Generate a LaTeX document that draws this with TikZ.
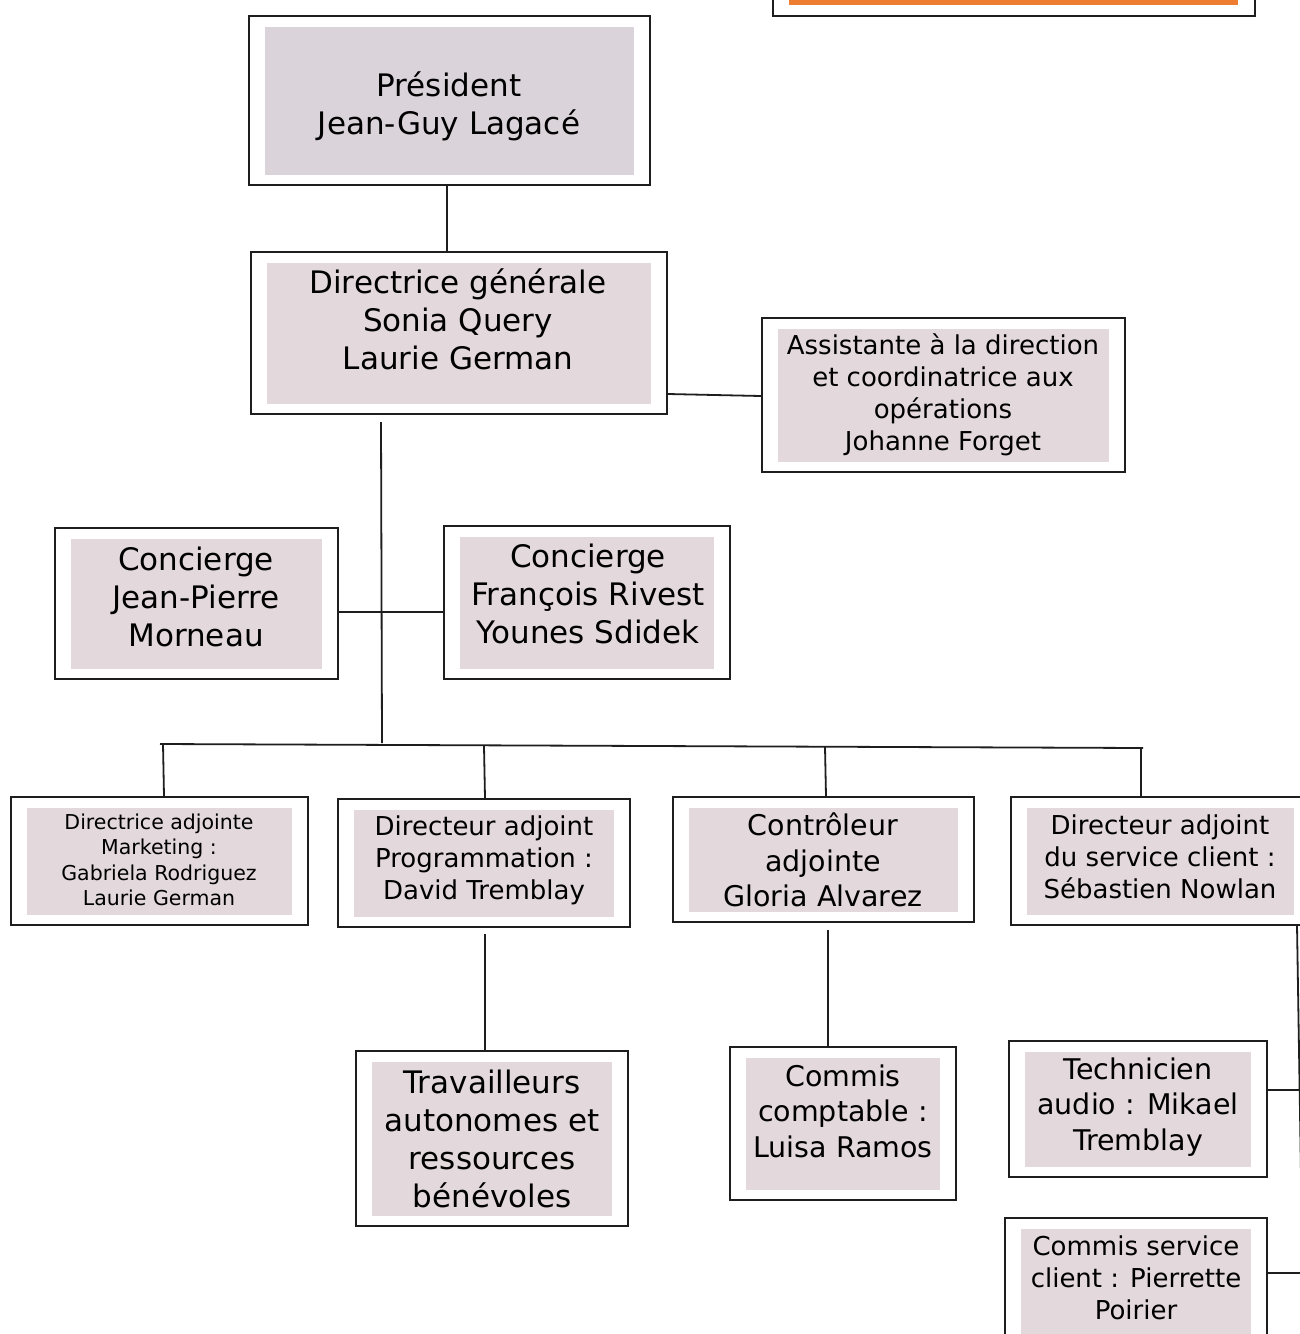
\documentclass[tikz,border=0pt]{standalone}
\usepackage{fontspec}
\setmainfont{DejaVu Sans}
\definecolor{presfill}{RGB}{219,211,218}
\definecolor{boxfill}{RGB}{227,216,220}
\definecolor{orangebar}{RGB}{237,125,49}
\definecolor{edge}{RGB}{30,30,30}
\tikzset{
  orgbox/.style={draw=edge, line width=2pt, fill=white, rectangle, inner sep=0pt,
    path picture={\fill[#1] ([shift={(15.5pt,-11pt)}]path picture bounding box.north west)
      rectangle ([shift={(-16pt,10.5pt)}]path picture bounding box.south east);}},
  orgbox/.default=boxfill,
  big/.style={font=\fontsize{31}{38}\selectfont, align=center, inner sep=0pt},
  mid/.style={font=\fontsize{26}{32}\selectfont, align=center, inner sep=0pt},
  midb/.style={font=\fontsize{28.5}{35.5}\selectfont, align=center, inner sep=0pt},
  small/.style={font=\fontsize{20.5}{25.5}\selectfont, align=center, inner sep=0pt},
  link/.style={draw=edge, line width=1.8pt},
}
\begin{document}
\begin{tikzpicture}[x=1pt,y=-1pt]
\useasboundingbox (0,0) rectangle (1300,1334);
\clip (0,0) rectangle (1300,1334);
\fill[white] (0,0) rectangle (1300,1334);

% orange header box (cut off at top)
\node[draw=edge, line width=2pt, rectangle, minimum width=482pt, minimum height=80pt, inner sep=0pt] (hdr) at (1014,-24) {};
\fill[orangebar] (789,-70) rectangle (1238,5);

% boxes
\node[orgbox=presfill, minimum width=401pt, minimum height=169pt] (pres) at (449.5,100.5) {};
\node[big] (pres-t) at (449,106.5) {Président\\Jean-Guy Lagacé};

\node[orgbox, minimum width=416pt, minimum height=162pt] (dg) at (459,333) {};
\node[big] (dg-t) at (458,319) {Directrice générale\\Sonia Query\\Laurie German};

\node[orgbox, minimum width=363pt, minimum height=154pt] (asst) at (943.5,395) {};
\node[mid] (asst-t) at (943,395) {Assistante à la direction\\et coordinatrice aux\\opérations\\Johanne Forget};

\node[orgbox, minimum width=283pt, minimum height=151pt] (cjp) at (196.5,603.5) {};
\node[big] (cjp-t) at (196,597) {Concierge\\Jean-Pierre\\Morneau};

\node[orgbox, minimum width=286pt, minimum height=153pt] (cfr) at (587,602.5) {};
\node[big] (cfr-t) at (588,594) {Concierge\\François Rivest\\Younes Sdidek};

\node[orgbox, minimum width=297pt, minimum height=128pt] (mkt) at (159.5,861) {};
\node[small] (mkt-t) at (159,860) {Directrice adjointe\\Marketing :\\Gabriela Rodriguez\\Laurie German};

\node[orgbox, minimum width=292pt, minimum height=128pt] (prog) at (484,863) {};
\node[mid] (prog-t) at (484,860) {Directeur adjoint\\Programmation :\\David Tremblay};

\node[orgbox, minimum width=301pt, minimum height=125pt] (ctrl) at (823.5,859.5) {};
\node[midb] (ctrl-t) at (823,860) {Contrôleur\\adjointe\\Gloria Alvarez};

\node[orgbox, minimum width=299pt, minimum height=128pt] (svc) at (1160.5,861) {};
\node[mid] (svc-t) at (1160,857) {Directeur adjoint\\du service client :\\Sébastien Nowlan};

\node[orgbox, minimum width=272pt, minimum height=175pt] (trav) at (492,1138.5) {};
\node[big] (trav-t) at (492,1139) {Travailleurs\\autonomes et\\ressources\\bénévoles};

\node[orgbox, minimum width=226pt, minimum height=153pt] (cpt) at (843,1123.5) {};
\node[midb] (cpt-t) at (843,1111) {Commis\\comptable :\\Luisa Ramos};

\node[orgbox, minimum width=258pt, minimum height=136pt] (tech) at (1138,1109) {};
\node[midb] (tech-t) at (1138,1107) {Technicien\\audio : Mikael\\Tremblay};

\node[orgbox, minimum width=262pt, minimum height=132pt] (csc) at (1136,1284) {};
\node[mid] (csc-t) at (1136,1278) {Commis service\\client : Pierrette\\Poirier};

% connectors
\draw[link] (pres.south) ++(-2.5,0) coordinate (p1) -- (p1 |- dg.north);
\draw[link] (dg.east |- 0,394) -- (asst.west |- 0,396);

\coordinate (spTop) at (381,422);
\coordinate (bus) at (382,743);
\draw[link] (spTop) -- (bus);
\draw[link] (cjp.east |- 0,612) -- (cfr.west |- 0,612);

\coordinate (busL) at (160,744);
\coordinate (busR) at (1143,748);
\draw[link] (busL) -- (busR);
\draw[link] (163,744) -- (mkt.north -| 164,0);
\draw[link] (484,746) -- (prog.north -| 485,0);
\draw[link] (825,747) -- (ctrl.north -| 826,0);
\draw[link] (1141,748) -- (svc.north -| 1141,0);

\draw[link] (485,934) -- (trav.north -| 485,0);
\draw[link] (828,930) -- (cpt.north -| 828,0);

\coordinate (svcR) at (1297,925);
\coordinate (svcR2) at (1303,1300);
\draw[link] (svcR) -- (svcR2);
\draw[link] (tech.east |- 0,1090) -- (1310,1090);
\draw[link] (csc.east |- 0,1273) -- (1310,1273);
\end{tikzpicture}
\end{document}
